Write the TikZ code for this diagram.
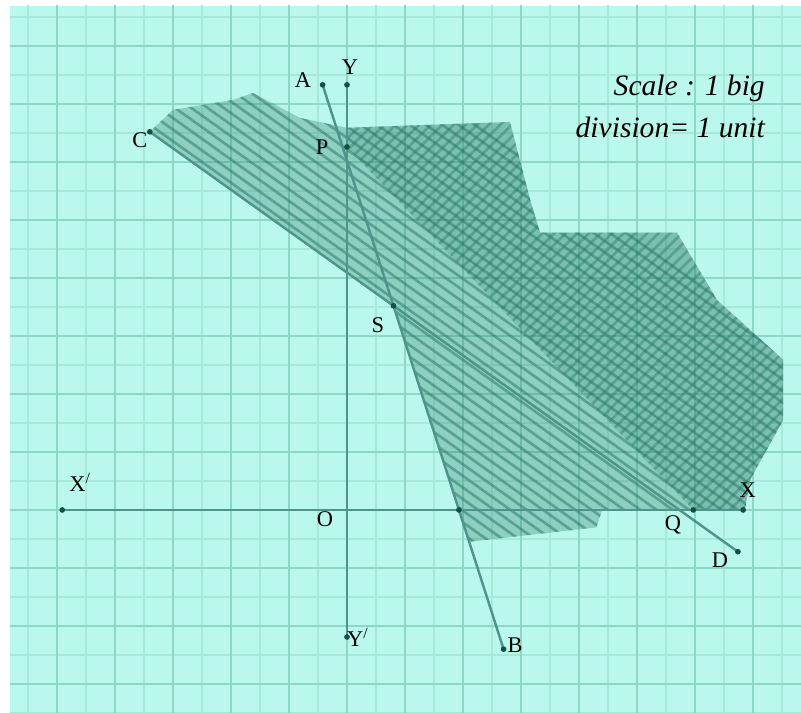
\documentclass[tikz,border=0pt]{standalone}
\usepackage{fontspec}
\setmainfont{Liberation Serif}
\definecolor{paper}{RGB}{186, 247, 236}
\definecolor{gridmajor}{RGB}{140, 216, 197}
\definecolor{gridminor}{RGB}{166, 233, 217}
\definecolor{axisline}{RGB}{78, 148, 138}
\definecolor{hatch}{RGB}{38, 118, 98}
\definecolor{dotcol}{RGB}{20, 80, 70}

\begin{document}
\begin{tikzpicture}[
	font=\fontsize{11}{13}\selectfont,
	% Styles for axes, lines, hatching and points
	axis/.style={draw=axisline, line width=1.4pt},
	graphline/.style={draw=axisline, line width=1.2pt},
	hatchline/.style={draw=hatch, line width=1.3pt},
	ptdot/.style={fill=dotcol},
	lbl/.style={inner sep=1pt, text=black}
	]
	
	% ==========================================
	% 1. GRAPH PAPER
	% ==========================================
	\useasboundingbox (-5.983,-3.5) rectangle (7.828,8.793);
	\fill[white] (-5.983,-3.5) rectangle (7.828,8.793);
	\fill[paper] (-5.81,-3.5) rectangle (7.828,8.69);
	\begin{scope}
		\clip (-5.81,-3.5) rectangle (7.828,8.69);
		\draw[gridminor, line width=0.8pt, step=0.5] (-6,-4) grid (8,9);
		\draw[gridmajor, line width=1.4pt, step=1] (-6,-4) grid (8,9);
	\end{scope}
	
	% ==========================================
	% 2. POINTS
	% ==========================================
	\coordinate (O) at (0,0);
	\coordinate (Xl) at (-4.91,0);
	\coordinate (Xr) at (6.83,0);
	\coordinate (Yt) at (0,7.33);
	\coordinate (Yb) at (0,-2.19);
	\coordinate (A) at (-0.42,7.33);
	\coordinate (B) at (2.7,-2.4);
	\coordinate (C) at (-3.4,6.52);
	\coordinate (D) at (6.74,-0.72);
	\coordinate (P) at (0,6.26);
	\coordinate (Q) at (5.97,0);
	\coordinate (S) at (intersection of A--B and C--D);
	\coordinate (R) at (intersection of A--B and Xl--Xr);
	
	% ==========================================
	% 3. HATCHED REGIONS
	% ==========================================
	% Region on the far side of AB and CD
	\begin{scope}
		\clip (C) -- (-3.0,6.90) -- (-1.97,7.07) -- (-1.62,7.19) -- (-0.81,6.76) -- (0,6.59)
		-- (2.81,6.69) -- (3.16,5.34) -- (3.33,4.78) -- (5.69,4.78) -- (6.38,3.62)
		-- (7.52,2.59) -- (7.52,1.55) -- (6.95,0.52) -- (6.86,0) -- (4.4,0) -- (4.3,-0.3)
		-- (2.1,-0.55) -- (R) -- (S) -- cycle;
		\fill[hatch, opacity=0.3] (-6,-4) rectangle (8,9);
		\foreach \k in {5.3,5.5,...,12.5}
			\draw[hatchline, opacity=0.5] (-6,\k) -- ++(14,-10);
	\end{scope}
	
	% Darker overlap beyond PQ
	\begin{scope}
		\clip (P) -- (0,6.59) -- (2.81,6.69) -- (3.16,5.34) -- (3.33,4.78) -- (5.69,4.78)
		-- (6.38,3.62) -- (7.52,2.59) -- (7.52,1.55) -- (6.95,0.52) -- (6.86,0) -- (Q) -- cycle;
		\fill[hatch, opacity=0.18] (-6,-4) rectangle (8,9);
		\foreach \k in {-7,-6.8,...,7}
			\draw[hatchline, opacity=0.4] (-6,-6+\k) -- ++(14,14);
	\end{scope}
	
	% ==========================================
	% 4. AXES AND LINES
	% ==========================================
	\draw[axis] (Xl) -- (Xr);
	\draw[axis] (Yt) -- (Yb);
	\draw[graphline] (A) -- (B);
	\draw[graphline] (C) -- (D);
	
	\foreach \p in {Xl,Xr,Yt,Yb,A,B,C,D,P,Q,S,R}
		\fill[ptdot] (\p) circle (1.4pt);
	
	% ==========================================
	% 5. LABELS
	% ==========================================
	\node[lbl] (lY) at (0.05,7.64) {Y};
	\node[lbl] (lA) at (-0.76,7.41) {A};
	\node[lbl] (lC) at (-3.57,6.38) {C};
	\node[lbl] (lP) at (-0.43,6.26) {P};
	\node[lbl] (lS) at (0.53,3.18) {S};
	\node[lbl] (lXl) at (-4.60,0.48) {X\textsuperscript{/}};
	\node[lbl] (lO) at (-0.38,-0.16) {O};
	\node[lbl] (lYb) at (0.19,-2.19) {Y\textsuperscript{/}};
	\node[lbl] (lB) at (2.9,-2.33) {B};
	\node[lbl] (lQ) at (5.62,-0.26) {Q};
	\node[lbl] (lX) at (6.91,0.34) {X};
	\node[lbl] (lD) at (6.43,-0.86) {D};
	
	\node[lbl, inner sep=0pt, anchor=north east, align=right,
	font=\fontsize{14.5}{20.5}\selectfont\itshape] (scale) at (7.21,7.50)
	{Scale : 1 big\\division= 1 unit};
	
\end{tikzpicture}
\end{document}
